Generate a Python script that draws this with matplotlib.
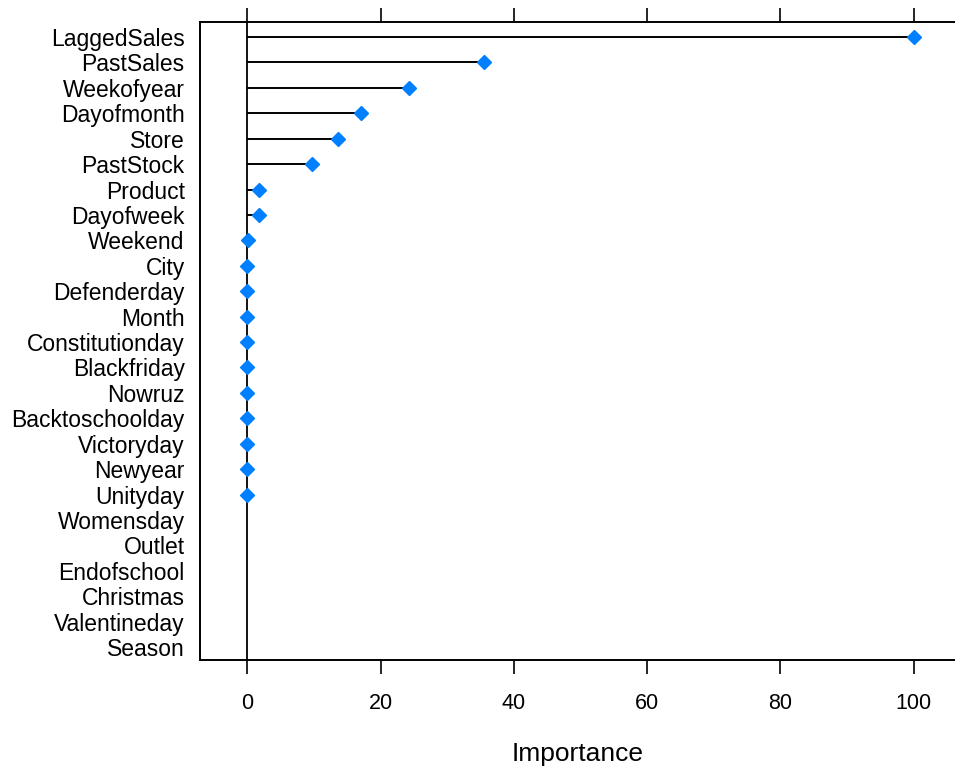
import numpy as np
import matplotlib
matplotlib.use("Agg")
import matplotlib.pyplot as plt

features = ["LaggedSales", "PastSales", "Weekofyear", "Dayofmonth", "Store",
            "PastStock", "Product", "Dayofweek", "Weekend", "City",
            "Defenderday", "Month", "Constitutionday", "Blackfriday", "Nowruz",
            "Backtoschoolday", "Victoryday", "Newyear", "Unityday", "Womensday",
            "Outlet", "Endofschool", "Christmas", "Valentineday", "Season"]
importance = [100.0, 35.5, 24.3, 17.0, 13.6,
              9.7, 1.7, 1.7, 0.15, 0.0,
              0.0, 0.0, 0.0, 0.0, 0.0,
              0.0, 0.0, 0.0, 0.0, np.nan,
              np.nan, np.nan, np.nan, np.nan, np.nan]
xticks = [0, 20, 40, 60, 80, 100]

plt.rcParams['font.family'] = ['Liberation Sans', 'DejaVu Sans']

fig = plt.figure(figsize=(9.55, 7.71), dpi=100)
W, H = 955, 771
left, right, top, bottom = 200, 955, 22, 660
ax = fig.add_axes([left / W, 1 - bottom / H, (right - left) / W, (bottom - top) / H])

ypos = np.arange(len(features))
vals = np.array(importance, dtype=float)
ok = ~np.isnan(vals)

ax.axvline(0, color='black', lw=1.3, zorder=1)
ax.hlines(ypos[ok], 0, vals[ok], color='black', lw=1.4, zorder=2)
ax.plot(vals[ok], ypos[ok], linestyle='none', marker='D', ms=7.5,
        color='#0080ff', mec='#0080ff', zorder=3)

ax.set_xlim(-7.1, 106.2)
ax.set_ylim(len(features) - 1 + 0.51, -0.59)
ax.set_yticks(ypos)
ax.set_yticklabels(features, fontsize=16.5)
ax.tick_params(axis='y', length=0, pad=11)
ax.set_xticks(xticks)
ax.set_xticklabels([str(t) for t in xticks], fontsize=15.5)
ax.tick_params(axis='x', which='both', direction='out', length=10, width=1.2,
               top=True, labeltop=False, pad=14)
for s in ['left', 'top', 'bottom']:
    ax.spines[s].set_linewidth(1.4)
ax.spines['right'].set_visible(False)
ax.set_xlabel("Importance", fontsize=19, labelpad=20)

fig.savefig("out.png", dpi=100)
